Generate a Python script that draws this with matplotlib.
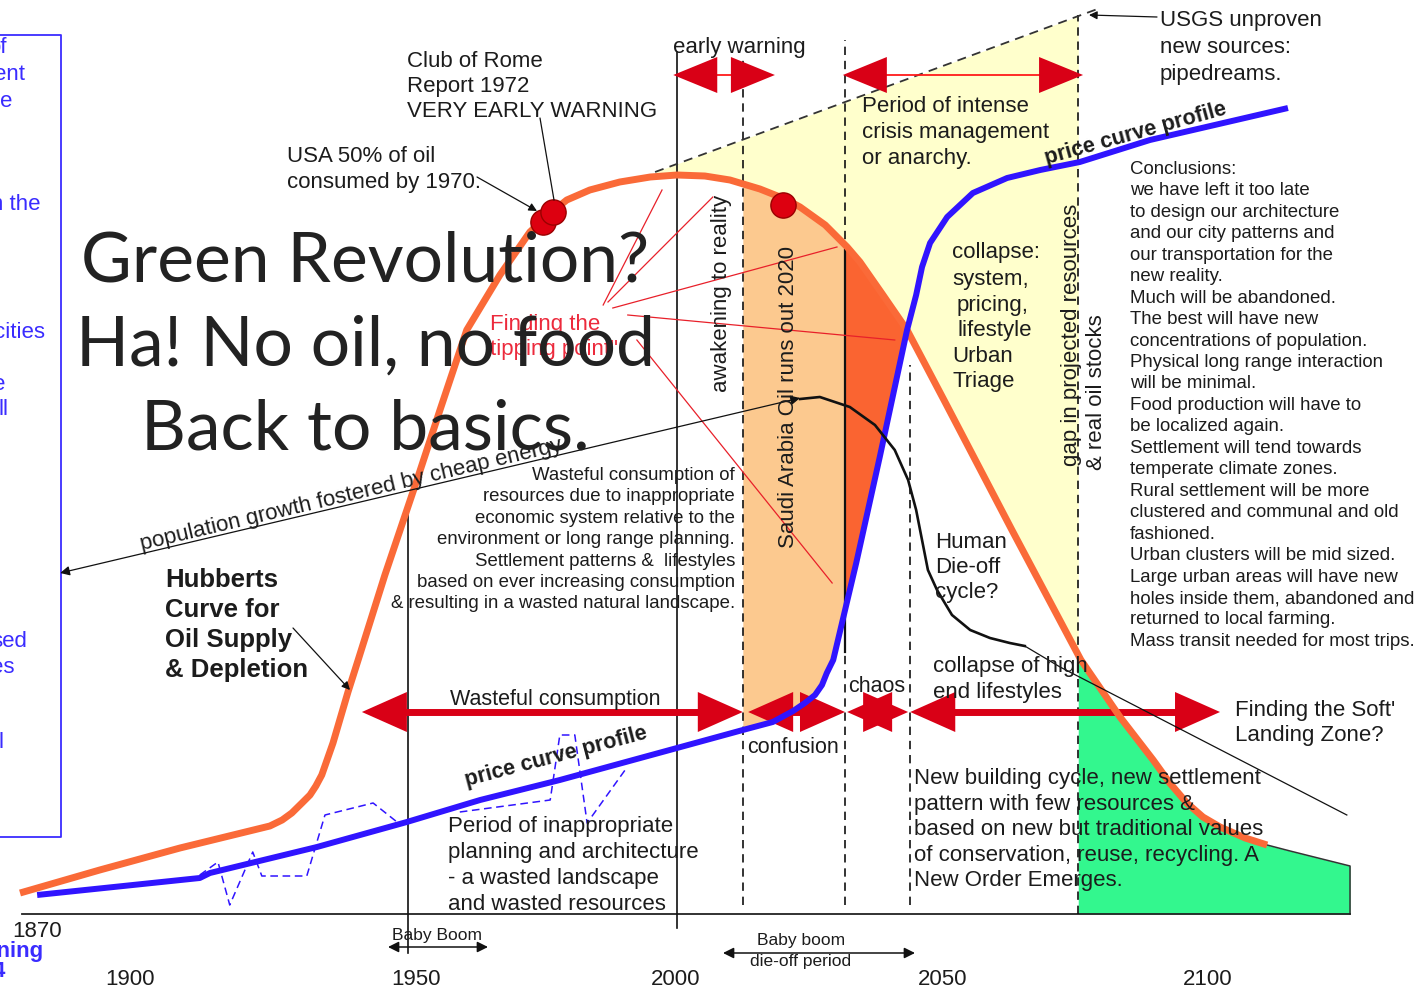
import numpy as np
import matplotlib.pyplot as plt

# ---------------- data: year vs. relative level above the time axis ----------------
hubbert_year = [1877.2, 1892.1, 1907.1, 1923.9, 1926.2, 1928.0, 1929.9, 1931.4,
                1932.5, 1933.6, 1935.7, 1938.5, 1940.4, 1945.4, 1951.4, 1955.7,
                1960.7, 1966.9, 1972.5, 1975.9, 1979.4, 1983.7, 1989.3, 1995.0,
                2000.0, 2005.2, 2009.9, 2015.5, 2020.2, 2023.0, 2027.7, 2031.8,
                2034.2, 2038.5, 2043.0, 2049.9, 2062.6, 2075.5, 2082.8, 2089.0,
                2092.1, 2095.3, 2098.3, 2101.5, 2106.2, 2110.3]
hubbert_level = [21, 44, 66, 88, 94, 101, 111, 119,
                 128, 139, 171, 222, 254, 339, 434, 504,
                 584, 639, 682, 699, 714, 724, 732, 737,
                 739, 738, 734, 725, 715, 707, 689, 667,
                 652, 619, 584, 514, 384, 254, 197, 154,
                 131, 111, 97, 87, 76, 69]

price_year = [1880.4, 1910.8, 1912.7, 1932.7, 1949.5, 1963.2, 1978.1, 2000.0,
              2012.3, 2017.9, 2021.7, 2023.9, 2025.8, 2027.1, 2028.0, 2029.2,
              2033.5, 2037.9, 2043.0, 2044.7, 2045.8, 2047.3, 2050.5, 2055.3,
              2061.7, 2067.9, 2075.3, 2088.4, 2114.2]
price_level = [19, 36, 41, 67, 92, 114, 134, 166,
               184, 192, 203, 211, 219, 229, 241, 254,
               351, 457, 584, 619, 647, 671, 697, 721,
               736, 744, 752, 774, 806]

wiggle1_year = [1910.8, 1914.2, 1916.4, 1920.7, 1922.4, 1930.8, 1934.2, 1943.2, 1947.9]
wiggle1_level = [39, 52, 9, 62, 38, 38, 99, 111, 91]
wiggle2_year = [1959.4, 1976.3, 1978.1, 1980.9, 1983.2, 1990.7]
wiggle2_level = [102, 114, 179, 179, 91, 147]

# soft landing tail after the Hubbert curve
tail_year = [2114.6, 2125.8]
tail_level = [63, 48]

# USGS unproven reserves line
usgs_year = [1995.9, 2079.1]
usgs_level = [742, 906]

# population growth and die-off curve
pop_year = [1884.7, 2023.0]
pop_level = [341, 516]
dieoff_year = [2023.0, 2026.7, 2032.3, 2037.0, 2040.7, 2043.2, 2044.7, 2045.8,
               2046.9, 2048.6, 2051.4, 2054.8, 2058.5, 2062.2, 2065.0]
dieoff_level = [515, 517, 507, 489, 464, 434, 404, 374,
                344, 324, 299, 284, 276, 271, 268]
fade_year = [2065.0, 2071.6, 2125.2]
fade_level = [268, 247, 99]

# tipping point rays (start year, start level, end year, end level)
rays = [(1986.2, 609, 1997.2, 724), (1987.1, 612, 2006.7, 717),
        (1988.0, 606, 2029.9, 667), (1990.8, 599, 2040.7, 574),
        (1992.5, 574, 2029.0, 331)]

dots_year = [1975.0, 1976.8, 2019.8]
dots_level = [692, 702, 709]

# period marker lines: year, bottom, top, solid?
markers = [(1949.7, -39, 404, True), (2000.0, -14, 862, True),
           (2012.3, 9, 857, False), (2031.4, 9, 874, False),
           (2043.6, 9, 549, False), (2075.0, 0, 899, False)]

# red period arrows (lower row and top row)
low_spans = [(1941.1, 2012.3), (2013.3, 2031.4), (2031.8, 2043.2), (2043.6, 2101.5)]
top_spans = [(1999.3, 2018.3), (2031.0, 2075.9)]
low_y, top_y = 202, 839

tick_years = [1900, 1950, 2000, 2050, 2100]

# ---------------- layout helpers ----------------
PX_YEAR = 5.35


def P(x, y):
    # picture pixel -> (year, level)
    return 2000 + (x - 677) / PX_YEAR, 914 - y


RED = '#d90016'
ORANGE = '#fa6a38'
BLUE = '#3014ff'
TXT = '#1c1c1c'
SANS = 'Liberation Sans'

fig = plt.figure(figsize=(14.27, 9.9), dpi=100)
ax = fig.add_axes([0, 0, 1, 1])
ax.set_xlim(P(0, 0)[0], P(1427, 0)[0])
ax.set_ylim(P(0, 990)[1], P(0, 0)[1])
ax.axis('off')


def band(lo, hi, top_x, top_y, bot_x=None, bot_y=None, **kw):
    g = np.linspace(lo, hi, 300)
    top = np.interp(g, top_x, top_y)
    bot = np.zeros_like(g) if bot_x is None else np.interp(g, bot_x, bot_y)
    ax.fill_between(g, bot, top, where=top >= bot, lw=0, **kw)


# fills
band(usgs_year[0], 2075.0, usgs_year, usgs_level, hubbert_year, hubbert_level,
     color='#ffffcc', zorder=1)
band(2012.3, 2031.4, hubbert_year, hubbert_level, price_year, price_level,
     color='#fcc98f', zorder=2)
band(2031.4, 2043.0, hubbert_year, hubbert_level, price_year, price_level,
     color='#fa6431', zorder=2)
green_x = hubbert_year + tail_year
green_y = hubbert_level + tail_level
band(2075.0, tail_year[-1], green_x, green_y, color='#33f78e', zorder=2)
ax.plot([hubbert_year[-1]] + tail_year + [tail_year[-1]], [hubbert_level[-1]] + tail_level + [0],
        color='#333333', lw=1.1, zorder=3)

# time axis
ax.plot([P(22, 0)[0], tail_year[-1]], [0, 0], color='#222222', lw=1.3, zorder=3)

# period lines
for yr, b, t, solid in markers:
    ax.plot([yr, yr], [b, t], color='#111111', lw=1.2,
            ls='-' if solid else (0, (5, 3.5)), zorder=3)
ax.plot([2031.4, 2031.4], [262, 664], color='#111111', lw=1.6, zorder=3)

# USGS dashed line
ax.plot(usgs_year, usgs_level, color='#333333', lw=1.3, ls=(0, (5, 3.5)), zorder=3)

# tipping point rays
for x0, y0, x1, y1 in rays:
    ax.plot([x0, x1], [y0, y1], color='#e8202a', lw=0.9, zorder=3)

# dashed blue wiggles
ax.plot(wiggle1_year, wiggle1_level, color=BLUE, lw=1.1, ls=(0, (5, 3)), zorder=4)
ax.plot(wiggle2_year, wiggle2_level, color=BLUE, lw=1.1, ls=(0, (5, 3)), zorder=4)


# red arrows
def red_arrow(x0, x1, y, head, half, lw, shaft_col):
    ax.plot([x0 + head * 0.9, x1 - head * 0.9], [y, y], color=shaft_col, lw=lw,
            solid_capstyle='butt', zorder=5)
    for tip, sgn in ((x0, 1), (x1, -1)):
        ax.fill([tip, tip + sgn * head, tip + sgn * head], [y, y + half, y - half],
                color=RED, lw=0, zorder=5)


for a, b in low_spans:
    red_arrow(a, b, low_y, 45 / PX_YEAR, 20, 5, RED)
for a, b in top_spans:
    red_arrow(a, b, top_y, 44 / PX_YEAR, 18, 1.3, '#ff1a1a')

# main curves
ax.plot(hubbert_year, hubbert_level, color=ORANGE, lw=5, solid_capstyle='butt',
        solid_joinstyle='round', zorder=6)
ax.plot(price_year, price_level, color=BLUE, lw=4.3, solid_capstyle='butt',
        solid_joinstyle='round', zorder=6)

# population / die-off
ax.annotate('', xy=(pop_year[0], pop_level[0]), xytext=(pop_year[1], pop_level[1]),
            arrowprops=dict(arrowstyle='<|-|>', color='#111111', lw=0.9,
                            mutation_scale=14, shrinkA=0, shrinkB=0), zorder=6)
ax.plot(dieoff_year, dieoff_level, color='#111111', lw=1.9, solid_joinstyle='round', zorder=6)
ax.plot(fade_year, fade_level, color='#111111', lw=0.9, zorder=6)

ax.scatter(dots_year, dots_level, s=330, color='#dd0010', edgecolors='#9a0000',
           linewidths=1, zorder=7)

# left blue box
ax.plot([P(0, 35)[0], P(61, 35)[0], P(61, 837)[0], P(0, 837)[0]],
        [P(0, 35)[1], P(61, 35)[1], P(61, 837)[1], P(0, 837)[1]],
        color='#3a2cff', lw=1.3, zorder=3)


def pointer(x0, y0, x1, y1, head=True):
    ax.annotate('', xy=P(x1, y1), xytext=P(x0, y0),
                arrowprops=dict(arrowstyle='-|>' if head else '-', color='#111111', lw=0.9,
                                mutation_scale=12, shrinkA=0, shrinkB=0), zorder=7)


pointer(477, 177, 537, 211)
pointer(540, 118, 554, 200, head=False)
pointer(293, 628, 350, 690)
pointer(1157, 17, 1089, 15)


def lines(x, y, dy, rows, **kw):
    kw.setdefault('fontsize', 16)
    kw.setdefault('color', TXT)
    kw.setdefault('family', SANS)
    kw.setdefault('va', 'baseline')
    kw.setdefault('zorder', 8)
    for i, r in enumerate(rows):
        ax.text(*P(x, y + i * dy), r, **kw)


lines(407, 67, 25, ['Club of Rome', 'Report 1972', 'VERY EARLY WARNING'])
lines(287, 162, 26, ['USA 50% of oil', 'consumed by 1970.'])
lines(673, 53, 0, ['early warning'])
lines(862, 112, 26, ['Period of intense', 'crisis management', 'or anarchy.'])
lines(1160, 26, 27, ['USGS unproven', 'new sources:', 'pipedreams.'])
lines(1130, 174, 21.45, [
    'Conclusions:', 'we have left it too late', 'to design our architecture',
    'and our city patterns and', 'our transportation for the', 'new reality.',
    'Much will be abandoned.', 'The best will have new',
    'concentrations of population.', 'Physical long range interaction',
    'will be minimal.', 'Food production will have to', 'be localized again.',
    'Settlement will tend towards', 'temperate climate zones.',
    'Rural settlement will be more', 'clustered and communal and old', 'fashioned.',
    'Urban clusters will be mid sized.', 'Large urban areas will have new',
    'holes inside them, abandoned and', 'returned to local farming.',
    'Mass transit needed for most trips.'], fontsize=13.4)
for x, y, s in [(952, 258, 'collapse:'), (952, 285, 'system,'), (957, 311, 'pricing,'),
                (957, 336, 'lifestyle'), (952, 362, 'Urban'), (952, 387, 'Triage')]:
    lines(x, y, 0, [s])
lines(735, 480, 21.4, [
    'Wasteful consumption of', 'resources due to inappropriate',
    'economic system relative to the', 'environment or long range planning.',
    'Settlement patterns &  lifestyles', 'based on ever increasing consumption',
    '& resulting in a wasted natural landscape.'], fontsize=13.4, ha='right')
lines(935, 548, 25, ['Human', 'Die-off', 'cycle?'])
lines(450, 705, 0, ['Wasteful consumption'], fontsize=15.5)
lines(933, 672, 26, ['collapse of high', 'end lifestyles'])
lines(848, 692, 0, ['chaos'], fontsize=15.5)
lines(747, 753, 0, ['confusion'], fontsize=15.5)
lines(1235, 716, 25, ["Finding the Soft'", 'Landing Zone?'])
lines(914, 784, 25.6, ['New building cycle, new settlement', 'pattern with few resources &',
                       'based on new but traditional values',
                       'of conservation, reuse, recycling. A', 'New Order Emerges.'])
lines(448, 832, 26, ['Period of inappropriate', 'planning and architecture',
                     '- a wasted landscape', 'and wasted resources'])
lines(165, 587, 30, ['Hubberts', 'Curve for', 'Oil Supply', '& Depletion'],
      fontsize=18.5, fontweight='bold')
lines(490, 330, 25, ['Finding the', 'tipping point"'], color='#ec2a3c')

# vertical labels
for x, y, s in [(722, 392, 'awakening to reality'), (789, 548, 'Saudi Arabia Oil runs out 2020'),
                (1072, 466, 'gap in projected resources'), (1097, 470, '& real oil stocks')]:
    ax.text(*P(x, y), s, rotation=90, ha='center', va='bottom', fontsize=16,
            family=SANS, color=TXT, zorder=8)

# rotated labels
ax.text(*P(557, 762), 'price curve profile', rotation=14.8, rotation_mode='anchor',
        ha='center', va='baseline', fontsize=15.6, fontweight='bold', family=SANS,
        color=TXT, zorder=8)
ax.text(*P(1137, 139), 'price curve profile', rotation=15.5, rotation_mode='anchor',
        ha='center', va='baseline', fontsize=15.6, fontweight='bold', family=SANS,
        color=TXT, zorder=8)
ax.text(*P(352, 500), 'population growth fostered by cheap energy', rotation=13.3,
        rotation_mode='anchor', ha='center', va='baseline', fontsize=16, family=SANS,
        color=TXT, zorder=8)

# time axis labels
lines(12, 937, 0, ['1870'])
for yr, xpx in zip(tick_years, [130, 416, 676, 943, 1208]):
    ax.text(P(xpx, 0)[0], P(0, 985)[1], str(yr), ha='center', va='baseline',
            fontsize=16, family=SANS, color=TXT, zorder=8)
lines(437, 940, 0, ['Baby Boom'], fontsize=12.5, ha='center')
lines(801, 945, 21, ['Baby boom', 'die-off period'], fontsize=12.5, ha='center')
for x0, x1, y in [(388, 488, 947), (723, 915, 953)]:
    ax.annotate('', xy=P(x0, y), xytext=P(x1, y),
                arrowprops=dict(arrowstyle='<|-|>', color='#111111', lw=1.1,
                                mutation_scale=16, shrinkA=0, shrinkB=0), zorder=8)

# cut-off blue notes at the left edge
for x, y, s in [(7, 53, 'of'), (25, 80, 'ent'), (12, 107, 'e'), (40, 210, 'in the'),
                (45, 338, 'cities'), (5, 390, 'e'), (8, 415, 'll'), (27, 647, 'sed'),
                (15, 673, 'es'), (3, 748, 'l')]:
    lines(x, y, 0, [s], ha='right', color='#3a2cff')
lines(44, 957, 0, ['nning'], ha='right', color='#3a2cff', fontweight='bold')
lines(5, 977, 0, ['4'], ha='right', color='#3a2cff', fontweight='bold')

# overlay headline
big = []
for y, s in [(282, 'Green Revolution?'), (366, 'Ha! No oil, no food'), (450, 'Back to basics.')]:
    big.append(ax.text(*P(365, y), s, ha='center', va='baseline', fontsize=52,
                       family='Lato', color='#222222', zorder=10))
r = fig.canvas.get_renderer()
w = big[1].get_window_extent(r).width
for t in big:
    t.set_fontsize(52 * 580 / w)

fig.savefig('out.png', dpi=100)
